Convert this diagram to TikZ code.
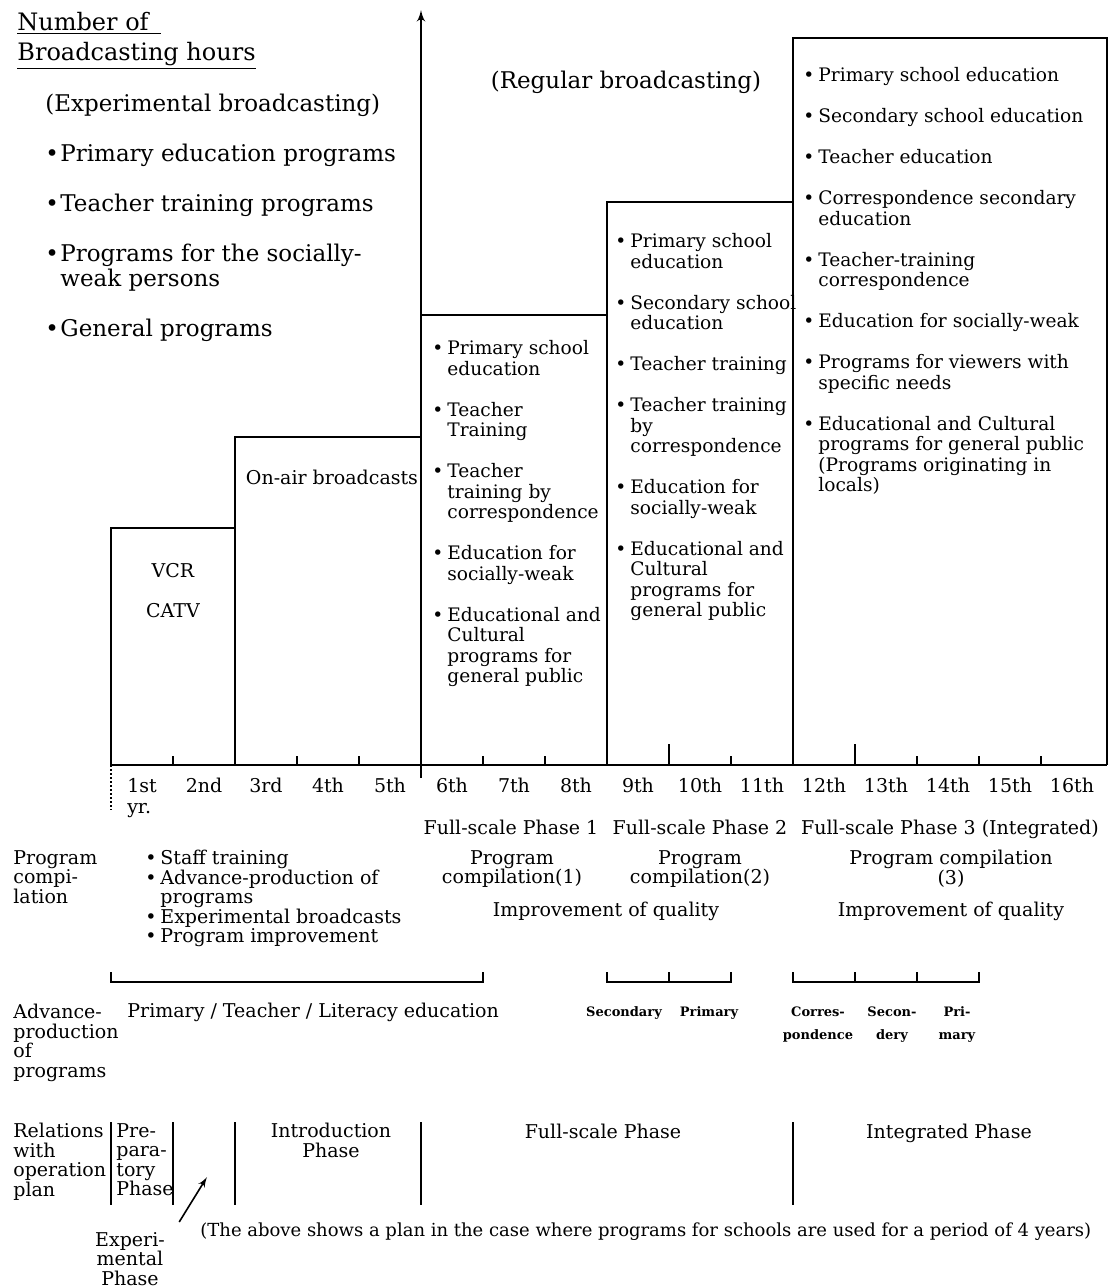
\documentclass[tikz,border=0pt]{standalone}
\usepackage{fontspec}
\setmainfont{DejaVu Serif}
\usetikzlibrary{arrows,positioning}
\newcommand{\fnttitle}{\fontsize{12}{15}\selectfont}
\newcommand{\fntleg}{\fontsize{11.5}{12.5}\selectfont}
\newcommand{\fntbox}{\fontsize{9.3}{10.25}\selectfont}
\newcommand{\fntlow}{\fontsize{9.5}{9.75}\selectfont}
\newcommand{\fntnote}{\fontsize{9}{10}\selectfont}
\newcommand{\fntsmall}{\fontsize{6.5}{11.5}\selectfont\bfseries}
\newcommand{\itbul}{\makebox[7.5pt][l]{\textbullet}}
\newcommand{\itind}{\hspace*{7.5pt}}
\tikzstyle{plainlbl} = [inner sep=0pt, font=\fntlow]
\tikzstyle{itemlist} = [inner sep=0pt, anchor=north west, align=left, font=\fntbox]
\tikzstyle{sidelbl} = [inner sep=0pt, anchor=north west, align=left, font=\fntlow]
\tikzstyle{stacklbl} = [inner sep=0pt, anchor=north, align=center, font=\fntlow]
\tikzstyle{smalllbl} = [inner sep=0pt, anchor=north, align=center, font=\fntsmall]
\tikzstyle{yearlbl} = [inner sep=0pt, anchor=base, font=\fntlow]
\tikzstyle{heavy} = [line width=1pt]

\begin{document}
\begin{tikzpicture}[x=0.5pt, y=-0.5pt, >=latex']
\useasboundingbox (0,0) rectangle (1109,1287);

% year boundaries and step heights
\foreach \k in {0,...,16} \coordinate (Y\k) at ({111+62*\k},765);
\coordinate (YEnd) at (1107,765);
\coordinate (H1) at (0,528);
\coordinate (H2) at (0,437);
\coordinate (H3) at (0,315);
\coordinate (H4) at (0,202);
\coordinate (H5) at (0,38);
\coordinate (Origin) at (421,778);
\coordinate (AxisTop) at (421,10);

% hours axis and steps
\draw [heavy,->] (Origin) -- (AxisTop);
\draw [heavy] (Y0) -- (YEnd);
\draw [heavy] (Y0) -- (Y0 |- H1) -- (Y2 |- H1) -- (Y2);
\draw [heavy] (Y2 |- H1) -- (Y2 |- H2) -- (Y5 |- H2);
\draw [heavy] (Y5 |- H3) -- (Y8 |- H3) -- (Y8);
\draw [heavy] (Y8 |- H3) -- (Y8 |- H4) -- (Y11 |- H4) -- (Y11);
\draw [heavy] (Y11 |- H4) -- (Y11 |- H5) -- (YEnd |- H5) -- (YEnd);
\draw [heavy, densely dotted] (Y0) -- ++(0,45);
\foreach \k in {1,3,4,6,7,10,13,14,15} \draw [heavy] (Y\k) -- ++(0,-9);
\foreach \k in {9,12} \draw [heavy] (Y\k) -- ++(0,-21);

\foreach \k/\yr in {1/1st,2/2nd,3/3rd,4/4th,5/5th,6/6th,7/7th,8/8th,9/9th,10/10th,11/11th,12/12th,13/13th,14/14th,15/15th,16/16th}
  \node [yearlbl] (Yr\k) at ({80+62*\k},792) {\yr};
\node [yearlbl, below=5pt of Yr1.south west, anchor=north west] (YrUnit) {yr.};

% legend
\node [itemlist, font=\fnttitle] (Title) at (17,12) {\underline{Number of\hspace{6pt}}\\\underline{Broadcasting hours}};
\node [itemlist, font=\fntleg] (Legend) at (45,94) {(Experimental broadcasting)\\[12.5pt]
  \itbul Primary education programs\\[12.5pt]
  \itbul Teacher training programs\\[12.5pt]
  \itbul Programs for the socially-\\ \itind weak persons\\[12.5pt]
  \itbul General programs};
\node [plainlbl, anchor=base, font=\fntleg] (Regular) at (626,88) {(Regular broadcasting)};

% contents of the steps
\node [plainlbl, anchor=base] (VCR) at (173,577) {VCR};
\node [plainlbl, anchor=base] (CATV) at (173,617) {CATV};
\node [plainlbl, anchor=base] (OnAir) at (332,484) {On-air broadcasts};
\node [itemlist] (PhaseOne) at (432,340) {\itbul Primary school\\ \itind education\\[10.25pt]
  \itbul Teacher\\ \itind Training\\[10.25pt]
  \itbul Teacher\\ \itind training by\\ \itind correspondence\\[10.25pt]
  \itbul Education for\\ \itind socially-weak\\[10.25pt]
  \itbul Educational and\\ \itind Cultural\\ \itind programs for\\ \itind general public};
\node [itemlist] (PhaseTwo) at (615,233) {\itbul Primary school\\ \itind education\\[10.25pt]
  \itbul Secondary school\\ \itind education\\[10.25pt]
  \itbul Teacher training\\[10.25pt]
  \itbul Teacher training\\ \itind by\\ \itind correspondence\\[10.25pt]
  \itbul Education for\\ \itind socially-weak\\[10.25pt]
  \itbul Educational and\\ \itind Cultural\\ \itind programs for\\ \itind general public};
\node [itemlist] (PhaseThree) at (803,67) {\itbul Primary school education\\[10.25pt]
  \itbul Secondary school education\\[10.25pt]
  \itbul Teacher education\\[10.25pt]
  \itbul Correspondence secondary\\ \itind education\\[10.25pt]
  \itbul Teacher-training\\ \itind correspondence\\[10.25pt]
  \itbul Education for socially-weak\\[10.25pt]
  \itbul Programs for viewers with\\ \itind specific needs\\[10.25pt]
  \itbul Educational and Cultural\\ \itind programs for general public\\ \itind (Programs originating in\\ \itind locals)};

\node [plainlbl, anchor=base] (FullOne) at (511,834) {Full-scale Phase 1};
\node [plainlbl, anchor=base] (FullTwo) at (700,834) {Full-scale Phase 2};
\node [plainlbl, anchor=base] (FullThree) at (950,834) {Full-scale Phase 3 (Integrated)};

% program compilation
\node [sidelbl] (CompHead) at (13,850) {Program\\compi-\\lation};
\node [itemlist, font=\fntlow] (CompItems) at (145,850) {\itbul Staff training\\ \itbul Advance-production of\\ \itind programs\\ \itbul Experimental broadcasts\\ \itbul Program improvement};
\node [stacklbl] (CompOne) at (512,850) {Program\\compilation(1)};
\node [stacklbl] (CompTwo) at (700,850) {Program\\compilation(2)};
\node [stacklbl] (CompThree) at (951,850) {Program compilation\\(3)};
\node [plainlbl, anchor=base] (QualOne) at (606,916) {Improvement of quality};
\node [plainlbl, anchor=base] (QualTwo) at (951,916) {Improvement of quality};

\coordinate (BrTop) at (0,972);
\coordinate (BrBot) at (0,982);
\draw [heavy] (Y0 |- BrTop) -- (Y0 |- BrBot) -- (Y6 |- BrBot) -- (Y6 |- BrTop);
\draw [heavy] (Y8 |- BrTop) -- (Y8 |- BrBot) -- (Y10 |- BrBot) -- (Y10 |- BrTop);
\draw [heavy] (Y11 |- BrTop) -- (Y11 |- BrBot) -- (Y14 |- BrBot) -- (Y14 |- BrTop);
\foreach \k in {9,12,13} \draw [heavy] (Y\k |- BrTop) -- (Y\k |- BrBot);

% advance production
\node [sidelbl] (AdvHead) at (13,1004) {Advance-\\production\\of\\programs};
\node [plainlbl, anchor=base west] (AdvOne) at (127,1017) {Primary / Teacher / Literacy education};
\node [smalllbl, anchor=base] (AdvSec) at (624,1016) {Secondary};
\node [smalllbl, anchor=base] (AdvPri) at (709,1016) {Primary};
\node [smalllbl] (AdvCor) at (818,1006) {Corres-\\pondence};
\node [smalllbl] (AdvSecTwo) at (892,1006) {Secon-\\dery};
\node [smalllbl] (AdvPriTwo) at (957,1006) {Pri-\\mary};

% relations with operation plan
\coordinate (RelTop) at (0,1122);
\coordinate (RelBot) at (0,1205);
\foreach \k in {0,1,2,5,11} \draw [heavy] (Y\k |- RelTop) -- (Y\k |- RelBot);
\node [sidelbl] (RelHead) at (13,1123) {Relations\\with\\operation\\plan};
\node [sidelbl] (PrepPhase) at (116,1123) {Pre-\\para-\\tory\\Phase};
\node [stacklbl] (IntroPhase) at (331,1123) {Introduction\\Phase};
\node [plainlbl, anchor=base] (FullPhase) at (603,1138) {Full-scale Phase};
\node [plainlbl, anchor=base] (IntegPhase) at (949,1138) {Integrated Phase};
\node [stacklbl] (ExpPhase) at (130,1232) {Experi-\\mental\\Phase};
\coordinate (ExpTail) at ([shift={(14,-10)}]ExpPhase.north east);
\coordinate (ExpTip) at (207,1177);
\draw [thick,->] (ExpTail) -- (ExpTip);
\node [plainlbl, anchor=base west, font=\fntnote] (Note) at (200,1236) {(The above shows a plan in the case where programs for schools are used for a period of 4 years)};

\end{tikzpicture}
\end{document}
